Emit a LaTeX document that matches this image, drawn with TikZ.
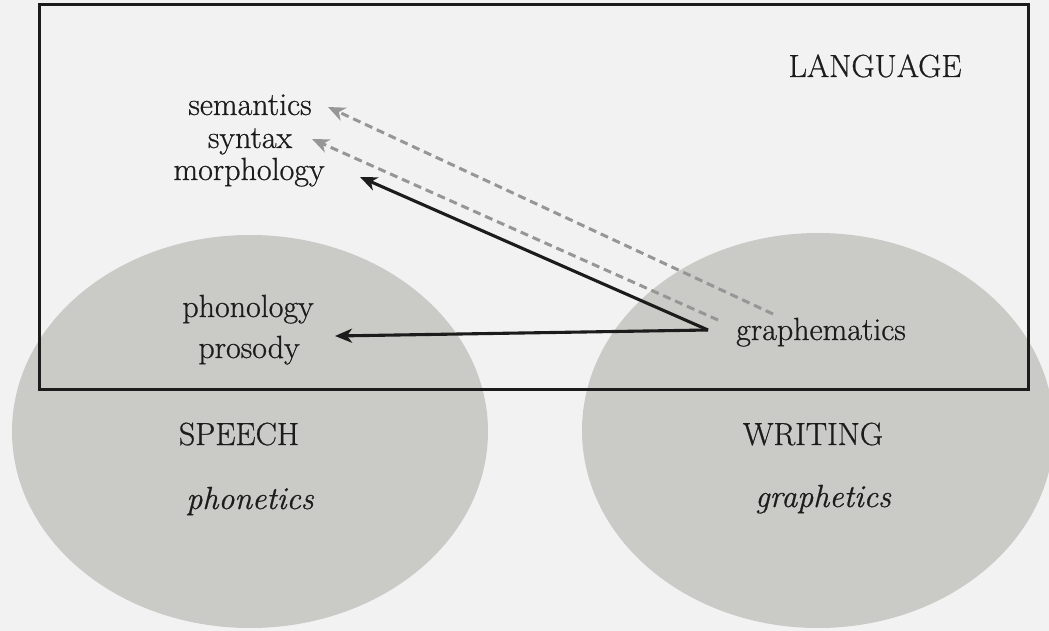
\documentclass[tikz,border=0pt]{standalone}
\usepackage{fontspec}
\setmainfont{Latin Modern Roman}[FakeBold=0.7]
\usetikzlibrary{arrows.meta}
\definecolor{ink}{RGB}{28,28,28}
\definecolor{dashgray}{RGB}{150,150,150}
\definecolor{blobgray}{RGB}{202,202,198}
\definecolor{paper}{RGB}{242,242,242}
\begin{document}
\begin{tikzpicture}[x=1pt,y=-1pt,
  txt/.style={font=\fontsize{32}{36}\selectfont, text=ink, inner sep=0pt, anchor=base},
  itxt/.style={txt, font=\fontsize{32}{36}\selectfont\itshape},
  tipstyle/.style={-{Stealth[length=17pt,width=14pt,inset=5pt]}},
  solidarr/.style={draw=ink, line width=3.1pt, tipstyle},
  dasharr/.style={draw=dashgray, line width=3pt, dash pattern=on 8pt off 5pt, tipstyle},
  blob/.style={fill=blobgray},
  frame/.style={draw=ink, line width=3pt}]
\useasboundingbox (0,0) rectangle (1049,631);
\fill[paper] (0,0) rectangle (1049,631);
% circles
\fill[blob] (250,431.5) ellipse [x radius=238pt, y radius=196.5pt];
\fill[blob] (818,430.5) ellipse [x radius=236pt, y radius=197.5pt];
% language frame
\draw[frame] (39,5) rectangle (1028,389);
% texts
\node[txt] (lang) at (875,77) {LANGUAGE};
\node[txt] (sem) at (250,115) {semantics};
\node[txt] (syn) at (250,148) {syntax};
\node[txt] (mor) at (249,180) {morphology};
\node[txt] (pho) at (248,317) {phonology};
\node[txt] (pros) at (249,358) {prosody};
\node[txt] (graph) at (821,340) {graphematics};
\node[txt] (speech) at (239,445) {SPEECH};
\node[itxt] (phon) at (250,509) {phonetics};
\node[txt] (writ) at (813,445) {WRITING};
\node[itxt] (grph) at (823,507) {graphetics};
% connector points
\coordinate (gj) at (708,330);
\coordinate (gd1) at (773,314);
\coordinate (gd2) at (718,320);
\coordinate (tSem) at (328,107);
\coordinate (tSyn) at (312,139);
\coordinate (tMor) at (360,177);
\coordinate (tPho) at (335,336);
% arrows
\draw[dasharr] (gd1) -- (tSem);
\draw[dasharr] (gd2) -- (tSyn);
\draw[solidarr] (gj) -- (tMor);
\draw[solidarr] (gj) -- (tPho);
\end{tikzpicture}
\end{document}
